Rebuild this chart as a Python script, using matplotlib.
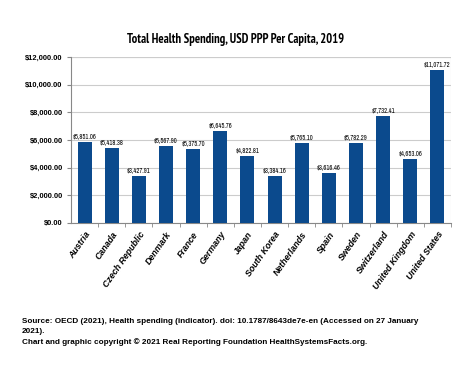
import matplotlib
matplotlib.use('Agg')
import matplotlib.pyplot as plt
from matplotlib.ticker import FuncFormatter

countries = ['Austria', 'Canada', 'Czech Republic', 'Denmark', 'France', 'Germany', 'Japan',
             'South Korea', 'Netherlands', 'Spain', 'Sweden', 'Switzerland',
             'United Kingdom', 'United States']
spending = [5851.06, 5418.38, 3427.91, 5567.90, 5375.70, 6645.76, 4822.81,
            3384.16, 5765.10, 3616.46, 5782.29, 7732.41, 4653.06, 11071.72]
yticks = [0, 2000, 4000, 6000, 8000, 10000, 12000]

narrow = ['Archivo Narrow', 'DejaVu Sans']
narrow_bold = ['PT Sans Narrow', 'DejaVu Sans']
arial = ['Liberation Sans', 'DejaVu Sans']
bar_color = '#0b4a8d'

fig = plt.figure(figsize=(4.74, 3.66), dpi=100)
ax = fig.add_axes([71 / 474, 1 - 223 / 366, 380 / 474, 166 / 366])

x = list(range(len(countries)))
ax.bar(x, spending, width=0.52, color=bar_color, zorder=3)
for xi, v in zip(x, spending):
    ax.text(xi, v + 200, '${:,.2f}'.format(v), ha='center', va='bottom',
            fontsize=4.7, family=narrow, zorder=4)

ax.set_xlim(-0.5, len(countries) - 0.5)
ax.set_ylim(0, 12000)
ax.set_yticks(yticks)
ax.yaxis.set_major_formatter(FuncFormatter(lambda v, p: '${:,.2f}'.format(v)))
for lab in ax.get_yticklabels():
    lab.set_family(arial)
    lab.set_fontweight('bold')
    lab.set_fontsize(5.4)
ax.tick_params(axis='y', length=3, pad=3, color='#888888')
ax.grid(axis='y', color='#cccccc', linewidth=0.8, zorder=0)

ax.set_xticks([i + 0.5 for i in x], minor=True)
ax.set_xticks(x)
ax.set_xticklabels(countries, rotation=55, ha='right', rotation_mode='anchor',
                   fontsize=6.4, fontweight='bold', fontstyle='italic', family=arial)
ax.tick_params(axis='x', which='major', length=0, pad=5)
ax.tick_params(axis='x', which='minor', length=3, color='#888888')

for side in ['top', 'right']:
    ax.spines[side].set_visible(False)
ax.spines['left'].set_color('#888888')
ax.spines['bottom'].set_color('#888888')
ax.axhline(12000, color='#cccccc', linewidth=0.8, zorder=0)
ax.axvline(len(countries) - 0.5, color='#cccccc', linewidth=0.8, zorder=0)

fig.text(236 / 474, 1 - 40 / 366, 'Total Health Spending, USD PPP Per Capita, 2019',
         ha='center', va='center', fontsize=9, fontweight='bold', family=narrow_bold)

foot = ('Source: OECD (2021), Health spending (indicator). doi: 10.1787/8643de7e-en (Accessed on 27 January\n'
        '2021).\n'
        'Chart and graphic copyright \u00a9 2021 Real Reporting Foundation HealthSystemsFacts.org.')
fig.text(22 / 474, 1 - 318 / 366, foot, ha='left', va='top', fontsize=5.9,
         fontweight='bold', family=arial, linespacing=1.6)

fig.savefig('out.png', dpi=100)
